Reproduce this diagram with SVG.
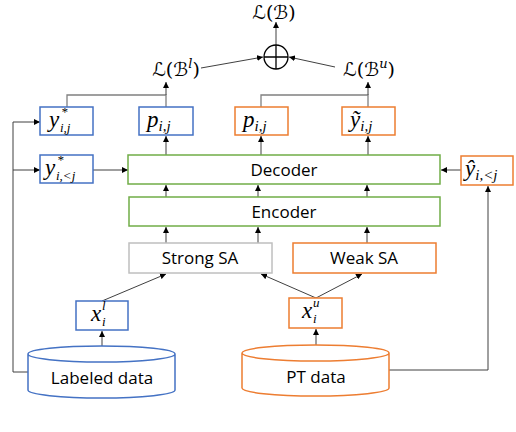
<svg xmlns="http://www.w3.org/2000/svg" width="516" height="432" viewBox="0 0 516 432">
<defs>
<marker id="ah" viewBox="0 0 8 8" refX="8" refY="4" markerWidth="6" markerHeight="6" orient="auto" markerUnits="userSpaceOnUse"><path d="M0,0 L8,4 L0,8 z" fill="#000"/></marker>
</defs>
<style>
.blue{fill:#fff;stroke:#4472C4;stroke-width:1.5}
.orange{fill:#fff;stroke:#ED7D31;stroke-width:1.5}
.green{fill:#fff;stroke:#70AD47;stroke-width:1.5}
.gray{fill:#fff;stroke:#BFBFBF;stroke-width:1.5}
.lbl{font-family:"Open Sans","Liberation Sans",sans-serif;font-size:17px;fill:#000;text-anchor:middle}
.m{font-family:"Liberation Serif","DejaVu Serif",serif;font-style:italic;font-size:23px;fill:#000}
.s{font-family:"Liberation Serif","DejaVu Serif",serif;font-style:italic;font-size:13px;fill:#000}
.si{font-size:15px}
.L{font-family:"DejaVu Serif","DejaVu Sans",serif;font-size:19px;fill:#000;text-anchor:middle}
.c{fill:none;stroke:#404040;stroke-width:1}
.g{fill:none;stroke:#808080;stroke-width:1.3}
</style>
<g id="connectors">
<path class="c" d="M276,45 V22" marker-end="url(#ah)"/>
<path class="c" d="M201,68 L263,57" marker-end="url(#ah)"/>
<path class="c" d="M335,67 L289,57" marker-end="url(#ah)"/>
<path class="g" d="M67,107 V95 H166 V107"/>
<path class="c" d="M166,95 V82" marker-end="url(#ah)"/>
<path class="g" d="M261,107 V95 H368 V107"/>
<path class="c" d="M368,95 V82" marker-end="url(#ah)"/>
<path class="c" d="M166,155 V136" marker-end="url(#ah)"/>
<path class="c" d="M261,155 V136" marker-end="url(#ah)"/>
<path class="c" d="M368,155 V136" marker-end="url(#ah)"/>
<path class="c" d="M93,170 H128" marker-end="url(#ah)"/>
<path class="c" d="M461,170 H441" marker-end="url(#ah)"/>
<path class="c" d="M166,197 V185" marker-end="url(#ah)"/>
<path class="c" d="M258,197 V185" marker-end="url(#ah)"/>
<path class="c" d="M367,197 V185" marker-end="url(#ah)"/>
<path class="c" d="M166,243 V227" marker-end="url(#ah)"/>
<path class="c" d="M258,243 V227" marker-end="url(#ah)"/>
<path class="c" d="M367,243 V227" marker-end="url(#ah)"/>
<path class="c" d="M102,301 L166,274" marker-end="url(#ah)"/>
<path class="c" d="M316,298 L261,274" marker-end="url(#ah)"/>
<path class="c" d="M316,298 L362,274" marker-end="url(#ah)"/>
<path class="c" d="M102,346 V331" marker-end="url(#ah)"/>
<path class="c" d="M316,345 V329" marker-end="url(#ah)"/>
<path class="c" d="M28,372 H13 V122 H40" marker-end="url(#ah)"/>
<path class="c" d="M13,170 H40" marker-end="url(#ah)"/>
<path class="c" d="M389,370 H488 V186" marker-end="url(#ah)"/>
</g>
<g id="loss-total"><text class="L" x="274" y="19">ℒ(ℬ)</text></g>
<g id="sum"><circle cx="276" cy="57" r="12" fill="#fff" stroke="#000" stroke-width="1.3"/><path d="M264,57 H288 M276,45 V69" stroke="#000" stroke-width="1.3"/></g>
<g id="loss-l"><text class="L" x="176" y="76">ℒ(ℬ<tspan font-size="13" font-style="italic" dy="-8">l</tspan><tspan dy="8">)</tspan></text></g>
<g id="loss-u"><text class="L" x="369" y="76">ℒ(ℬ<tspan font-size="13" font-style="italic" dy="-8">u</tspan><tspan dy="8">)</tspan></text></g>
<g id="ystar"><rect class="blue" x="40" y="107" width="53" height="28"/><text class="m" x="49" y="127">y</text><text class="s" x="61" y="116">*</text><text class="s" x="60" y="132">i,j</text></g>
<g id="p-l"><rect class="blue" x="139" y="107" width="54" height="28"/><text class="m" x="147" y="127">p<tspan class="s si" dy="4">i,j</tspan></text></g>
<g id="p-u"><rect class="orange" x="235" y="107" width="53" height="28"/><text class="m" x="243" y="127">p<tspan class="s si" dy="4">i,j</tspan></text></g>
<g id="ytilde"><rect class="orange" x="342" y="107" width="53" height="28"/><text class="m" x="350" y="127">ỹ<tspan class="s si" dy="4">i,j</tspan></text></g>
<g id="ystar-prev"><rect class="blue" x="40" y="155" width="53" height="28"/><text class="m" x="45" y="175">y</text><text class="s" x="57" y="164">*</text><text class="s" x="56" y="180">i,&lt;j</text></g>
<g id="decoder"><rect class="green" x="128" y="155" width="312" height="29"/><text class="lbl" x="284" y="176">Decoder</text></g>
<g id="yhat"><rect class="orange" x="461" y="156" width="52" height="29"/><text class="m" x="465" y="176">ŷ<tspan class="s si" dy="4">i,&lt;j</tspan></text></g>
<g id="encoder"><rect class="green" x="129" y="197" width="311" height="29"/><text class="lbl" x="284" y="218">Encoder</text></g>
<g id="strong"><rect class="gray" x="129" y="243" width="143" height="30"/><text class="lbl" x="200" y="264">Strong SA</text></g>
<g id="weak"><rect class="orange" x="293" y="243" width="143" height="30"/><text class="lbl" x="364" y="264">Weak SA</text></g>
<g id="xl"><rect class="blue" x="76" y="301" width="52" height="29"/><text class="m" x="91" y="321">x</text><text class="s" x="102" y="310">l</text><text class="s" x="102" y="326">i</text></g>
<g id="xu"><rect class="orange" x="289" y="298" width="53" height="30"/><text class="m" x="302" y="318">x</text><text class="s" x="313" y="307">u</text><text class="s" x="313" y="323">i</text></g>
<g id="labeled"><path class="blue" d="M28,354 V390 A73.5,8 0 0 0 175,390 V354 A73.5,8 0 0 0 28,354 A73.5,8 0 0 0 175,354"/><text class="lbl" x="102" y="384">Labeled data</text></g>
<g id="pt"><path class="orange" d="M242,353 V388 A73.5,8 0 0 0 389,388 V353 A73.5,8 0 0 0 242,353 A73.5,8 0 0 0 389,353"/><text class="lbl" x="316" y="383">PT data</text></g>
</svg>
